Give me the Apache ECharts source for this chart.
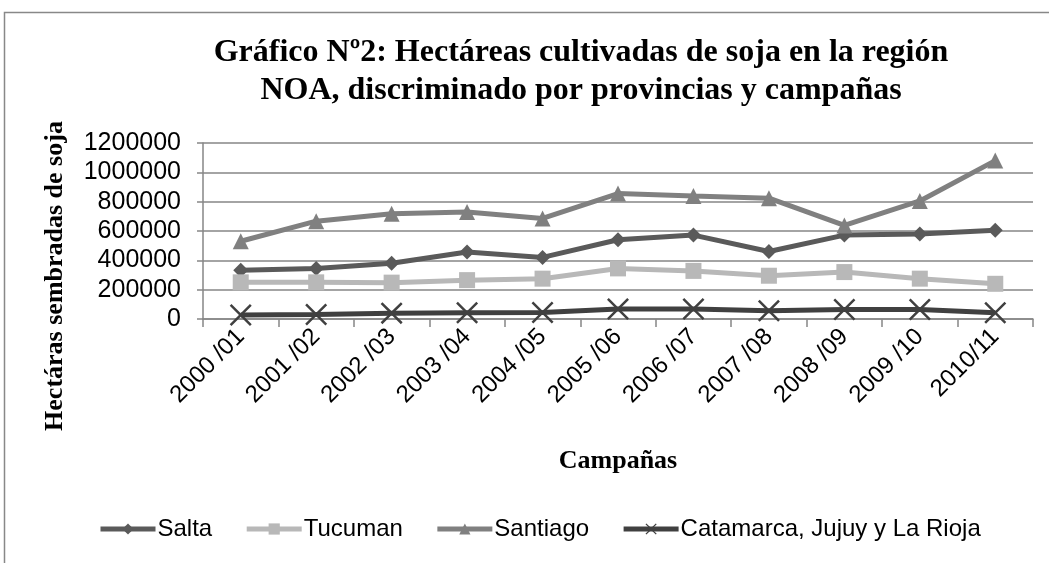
<!DOCTYPE html>
<html><head><meta charset="utf-8">
<script src="https://cdn.jsdelivr.net/npm/echarts@6/dist/echarts.min.js"></script>
<style>html,body{margin:0;padding:0;background:#fff}#c{width:1049px;height:563px}</style>
</head><body><div id="c"></div>
<script>
const categories = ['2000 /01','2001 /02','2002 /03','2003 /04','2004 /05','2005 /06','2006 /07','2007 /08','2008 /09','2009 /10','2010/11'];
const salta     = [333000, 344000, 380000, 457000, 420000, 540000, 572000, 460000, 572000, 580000, 605000];
const tucuman   = [250000, 250000, 248000, 265000, 275000, 345000, 328000, 295000, 320000, 275000, 240000];
const santiago  = [530000, 667000, 718000, 729000, 686000, 855000, 838000, 824000, 638000, 805000, 1080000];
const catamarca = [27000, 31000, 40000, 42000, 44000, 68000, 68000, 57000, 64000, 64000, 43000];
const yTicks = [0, 200000, 400000, 600000, 800000, 1000000, 1200000];

const X = 'path://M0,0.8L0.8,0L5,4.2L9.2,0L10,0.8L5.8,5L10,9.2L9.2,10L5,5.8L0.8,10L0,9.2L4.2,5Z';
const chart = echarts.init(document.getElementById('c'));
function s(name, data, color, symbol, size) {
  return {name, type:'line', data, symbol, symbolSize:size, color,
    lineStyle:{width:5, color}, itemStyle:{color}, z: 2};
}
chart.setOption({
  animation:false,
  title:{text:'Gráfico Nº2: Hectáreas cultivadas de soja en la región\nNOA, discriminado por provincias y campañas',
    left:576, top:29, textAlign:'center',
    textStyle:{fontFamily:'Liberation Serif', fontWeight:'bold', fontSize:32, lineHeight:38, color:'#000'}},
  graphic:[
    {type:'rect', shape:{x:4.5,y:12.5,width:1060,height:600}, style:{fill:'none', stroke:'#888', lineWidth:1.5}, silent:true},
    {type:'text', x:55, y:276, rotation:Math.PI/2, silent:true,
      style:{text:'Hectáras sembradas de soja', fontFamily:'Liberation Serif', fontWeight:'bold', fontSize:26,
        fill:'#000', align:'center', verticalAlign:'middle'}}
  ],
  legend:{bottom:17, left:93, itemGap:32, itemWidth:55, itemHeight:14,
    lineStyle:{width:5},
    textStyle:{fontFamily:'Liberation Sans', fontSize:24, color:'#000', padding:[0,0,0,-3]},
    data:['Salta','Tucuman','Santiago','Catamarca, Jujuy y La Rioja']},
  grid:{left:203, right:16, top:143, bottom:244},
  xAxis:{type:'category', data:categories, boundaryGap:true,
    name:'Campañas', nameLocation:'middle', nameGap:129,
    nameTextStyle:{fontFamily:'Liberation Serif', fontWeight:'bold', fontSize:26, color:'#000'},
    axisLine:{lineStyle:{color:'#868686', width:1.5}},
    axisTick:{show:true, length:8, alignWithLabel:false, lineStyle:{color:'#868686', width:1.5}},
    axisLabel:{rotate:45, fontFamily:'Liberation Sans', fontSize:24, color:'#000', margin:14}},
  yAxis:{type:'value', min:0, max:1200000, interval:200000,
    axisLine:{show:true, lineStyle:{color:'#868686', width:1.5}},
    axisTick:{show:true, length:6, lineStyle:{color:'#868686', width:1.5}},
    splitLine:{lineStyle:{color:'#868686', width:1.5}},
    axisLabel:{fontFamily:'Liberation Sans', fontSize:25, color:'#000', margin:22,
      formatter: v => yTicks.includes(v) ? String(v) : ''}},
  series:[
    s('Salta', salta, '#5a5a5a', 'diamond', 15),
    s('Tucuman', tucuman, '#b8b8b8', 'rect', 16),
    s('Santiago', santiago, '#808080', 'triangle', 16),
    s('Catamarca, Jujuy y La Rioja', catamarca, '#404040', X, 22)
  ]
});
</script></body></html>
